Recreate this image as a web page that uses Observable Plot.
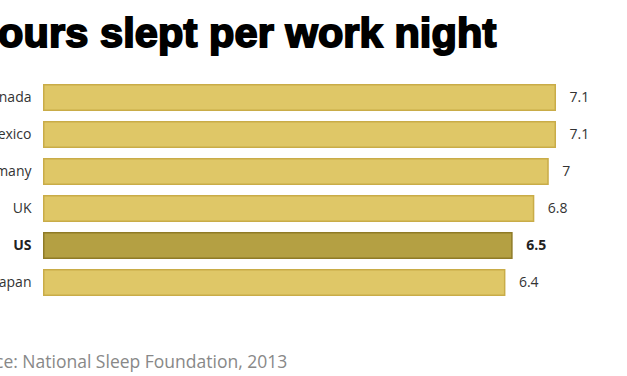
<!DOCTYPE html>
<html><head><meta charset="utf-8">
<script src="https://cdn.jsdelivr.net/npm/d3@7"></script>
<script src="https://cdn.jsdelivr.net/npm/@observablehq/plot@0.6"></script>
<style>
html,body{margin:0;padding:0;background:#fff;overflow:hidden;width:627px;height:376px;}
#wrap{position:relative;width:627px;height:376px;overflow:hidden;}
#title{position:absolute;left:-32px;top:6px;margin:0;font-family:"Liberation Sans Narrow","Liberation Sans",sans-serif;font-weight:bold;font-size:41.5px;line-height:54px;color:#000;-webkit-text-stroke:1.9px #000;white-space:nowrap;letter-spacing:0.1px;}
#chart{position:absolute;left:-77px;top:60px;width:720px;}
#chart svg{max-width:none;}
#source{position:absolute;left:-43px;top:349px;font-family:"Open Sans",sans-serif;font-size:17.5px;line-height:24px;color:#888;white-space:nowrap;}
</style></head>
<body><div id="wrap">
<div id="title">Hours slept per work night</div>
<div id="chart"></div>
<div id="source">Source: National Sleep Foundation, 2013</div>
</div>
<script>
const countries = ["Canada","Mexico","Germany","UK","US","Japan"];
const hours = [7.1, 7.1, 7, 6.8, 6.5, 6.4];
const highlight = "US";
const data = countries.map((c,i)=>({country:c, hours:hours[i], hl:c===highlight}));
const normal = data.filter(d=>!d.hl), bold = data.filter(d=>d.hl);
const plot = Plot.plot({
  width: 720, height: 260,
  marginLeft: 120, marginRight: 0, marginTop: 0, marginBottom: 0,
  x: {domain:[0,7.1], range:[120,633], axis:null},
  y: {domain: countries, range:[21,239], paddingInner:0.26, paddingOuter:0, axis:null},
  style: {fontFamily:"Open Sans, sans-serif", background:"transparent"},
  marks: [
    Plot.barX(data, {x:"hours", y:"country", fill:d=>d.hl?"#b4a043":"#dfc767", stroke:d=>d.hl?"#8f7b27":"#c9ac48", strokeWidth:1.5, inset:0.75}),
    Plot.text(normal, {x:0, y:"country", text:"country", textAnchor:"end", dx:-12, fontSize:14, fill:"#333"}),
    Plot.text(bold, {x:0, y:"country", text:"country", textAnchor:"end", dx:-12, fontSize:14, fill:"#222", fontWeight:"bold"}),
    Plot.text(normal, {x:"hours", y:"country", text:d=>String(d.hours), textAnchor:"start", dx:13, fontSize:14, fill:"#333"}),
    Plot.text(bold, {x:"hours", y:"country", text:d=>String(d.hours), textAnchor:"start", dx:13, fontSize:14, fill:"#222", fontWeight:"bold"})
  ]
});
document.getElementById("chart").appendChild(plot);
</script>
</body></html>
